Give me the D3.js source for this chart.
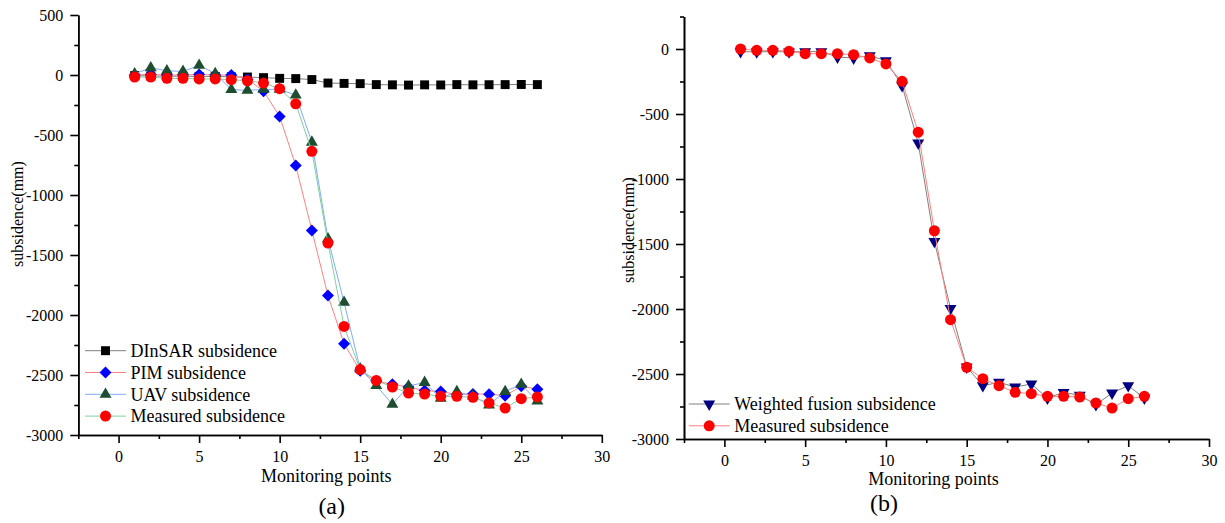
<!DOCTYPE html>
<html>
<head>
<meta charset="utf-8">
<script src="https://cdn.jsdelivr.net/npm/d3@7"></script>
<style>
  body { margin: 0; background: #fff; }
  svg text { font-family: "Liberation Serif", "Times New Roman", serif; fill: #000; }
  .axis path, .axis line { stroke: #000; stroke-width: 1.6; }
</style>
</head>
<body>
<div id="chart"></div>
<script>
// monitoring point numbers
var points = [1,2,3,4,5,6,7,8,9,10,11,12,13,14,15,16,17,18,19,20,21,22,23,24,25,26];

// (a) subsidence in mm
var dinsar = [-5,-8,-10,-10,-12,-12,-15,-17,-22,-28,-30,-38,-67,-70,-72,-80,-82,-84,-82,-83,-80,-82,-81,-80,-79,-80];
var pim = [0,5,0,0,5,0,0,-35,-135,-345,-755,-1295,-1838,-2240,-2465,-2550,-2578,-2600,-2630,-2638,-2662,-2658,-2660,-2672,-2594,-2618];
var uav = [10,60,35,30,80,12,-122,-128,-120,-120,-168,-560,-1365,-1895,-2450,-2588,-2745,-2592,-2562,-2695,-2638,-2675,-2750,-2638,-2578,-2718];
var measuredA = [-17,-17,-28,-28,-33,-33,-39,-48,-67,-114,-240,-636,-1400,-2095,-2455,-2545,-2600,-2650,-2659,-2678,-2678,-2686,-2733,-2775,-2697,-2683];

// (b) subsidence in mm
var fusion = [-20,-22,-20,-22,-20,-20,-62,-69,-51,-90,-282,-723,-1480,-1995,-2446,-2590,-2564,-2600,-2577,-2685,-2641,-2664,-2736,-2646,-2590,-2685];
var measuredB = [0,-10,-10,-18,-36,-36,-36,-44,-69,-115,-249,-640,-1398,-2082,-2448,-2536,-2590,-2641,-2651,-2672,-2672,-2677,-2723,-2762,-2690,-2672];

var xTicks = [0,5,10,15,20,25,30];
var yTicksA = [-3000,-2500,-2000,-1500,-1000,-500,0,500];
var yTicksB = [-3000,-2500,-2000,-1500,-1000,-500,0];

var svg = d3.select("#chart")
	.append("svg")
	.attr("width", 1225)
	.attr("height", 523);

function drawPanel(opt)
{
	var x = d3.scaleLinear().domain([-2.5, 30]).range([opt.left, opt.right]);
	var y = d3.scaleLinear().domain(opt.yDomain).range([opt.bottom, opt.top]);

	var g = svg.append("g");

	// minor ticks first, then the labelled axes
	var xMinor = d3.range(-2.5, 30.01, 2.5).filter(function(v){ return xTicks.indexOf(v) < 0; });
	var yMinor = d3.range(opt.yDomain[0], opt.yDomain[1] + 1, 250).filter(function(v){ return opt.yTicks.indexOf(v) < 0; });

	g.append("g").attr("class", "axis")
		.attr("transform", "translate(0," + opt.bottom + ")")
		.call(d3.axisBottom(x).tickValues(xMinor).tickSizeInner(4).tickSizeOuter(0).tickFormat(""));
	g.append("g").attr("class", "axis")
		.attr("transform", "translate(" + opt.left + ",0)")
		.call(d3.axisLeft(y).tickValues(yMinor).tickSizeInner(4).tickSizeOuter(0).tickFormat(""));

	var xa = g.append("g").attr("class", "axis")
		.attr("transform", "translate(0," + opt.bottom + ")")
		.call(d3.axisBottom(x).tickValues(xTicks).tickSizeInner(8).tickSizeOuter(0).tickPadding(8)
			.tickFormat(function(d){ return String(d); }));
	var ya = g.append("g").attr("class", "axis")
		.attr("transform", "translate(" + opt.left + ",0)")
		.call(d3.axisLeft(y).tickValues(opt.yTicks).tickSizeInner(8).tickSizeOuter(0).tickPadding(7)
			.tickFormat(function(d){ return String(d); }));
	// d3 puts sans-serif on the axis group, take it off
	[xa, ya].forEach(function(a){
		a.attr("font-family", "Liberation Serif").attr("font-size", 16);
		a.selectAll("text").attr("font-family", "Liberation Serif").style("font-size", "16px");
	});

	// series: line then markers
	opt.series.forEach(function(s)
	{
		var line = d3.line()
			.x(function(d, i){ return x(points[i]); })
			.y(function(d){ return y(d); });
		g.append("path")
			.datum(s.values)
			.attr("fill", "none")
			.attr("stroke", s.line)
			.attr("stroke-width", 1)
			.attr("d", line);
		g.selectAll(null)
			.data(s.values)
			.enter()
			.append("path")
			.attr("d", d3.symbol().type(s.symbol).size(s.size))
			.attr("fill", s.color)
			.attr("transform", function(d, i){
				return "translate(" + x(points[i]) + "," + y(d) + ") rotate(" + (s.rotate || 0) + ")";
			});
	});

	// legend
	var lg = g.append("g");
	opt.series.forEach(function(s, i)
	{
		var ly = opt.legendY + i * 21.8;
		lg.append("line")
			.attr("x1", opt.legendX).attr("x2", opt.legendX + 41)
			.attr("y1", ly).attr("y2", ly)
			.attr("stroke", s.line).attr("stroke-width", 1);
		lg.append("path")
			.attr("d", d3.symbol().type(s.symbol).size(s.size))
			.attr("fill", s.color)
			.attr("transform", "translate(" + (opt.legendX + 20.5) + "," + ly + ") rotate(" + (s.rotate || 0) + ")");
		lg.append("text")
			.attr("x", opt.legendX + 45.5)
			.attr("y", ly)
			.attr("dy", "0.35em")
			.style("font-size", "18px")
			.text(s.name);
	});

	// titles
	g.append("text")
		.attr("transform", "translate(" + opt.yTitleX + "," + opt.yTitleY + ") rotate(-90)")
		.attr("text-anchor", "middle")
		.style("font-size", "16px")
		.text("subsidence(mm)");
	g.append("text")
		.attr("x", opt.xTitleX).attr("y", opt.xTitleY)
		.attr("text-anchor", "middle")
		.style("font-size", "18px")
		.text("Monitoring points");
	g.append("text")
		.attr("x", opt.capX).attr("y", opt.capY)
		.attr("text-anchor", "middle")
		.style("font-size", "24px")
		.text(opt.caption);
}

drawPanel({
	left: 78.3, right: 601.8, top: 15, bottom: 435,
	yDomain: [-3000, 500], yTicks: yTicksA,
	legendX: 85, legendY: 350.7,
	yTitleX: 23, yTitleY: 214,
	xTitleX: 326.3, xTitleY: 482,
	capX: 331.7, capY: 514, caption: "(a)",
	series: [
		{ name: "DInSAR subsidence", values: dinsar, color: "#000000", line: "#808080", symbol: d3.symbolSquare, size: 80 },
		{ name: "PIM subsidence", values: pim, color: "#0000ff", line: "#ff8080", symbol: d3.symbolSquare, size: 72, rotate: 45 },
		{ name: "UAV subsidence", values: uav, color: "#1e4d2f", line: "#80aaff", symbol: d3.symbolTriangle, size: 62 },
		{ name: "Measured subsidence", values: measuredA, color: "#ff0000", line: "#80d0a0", symbol: d3.symbolCircle, size: 95 }
	]
});

drawPanel({
	left: 684, right: 1209, top: 16.5, bottom: 439,
	yDomain: [-3000, 250], yTicks: yTicksB,
	legendX: 688.7, legendY: 404,
	yTitleX: 634, yTitleY: 230,
	xTitleX: 933.5, xTitleY: 485,
	capX: 884, capY: 511, caption: "(b)",
	series: [
		{ name: "Weighted fusion subsidence", values: fusion, color: "#000080", line: "#808080", symbol: d3.symbolTriangle, size: 62, rotate: 180 },
		{ name: "Measured subsidence", values: measuredB, color: "#ff0000", line: "#ff8080", symbol: d3.symbolCircle, size: 95 }
	]
});
</script>
</body>
</html>
